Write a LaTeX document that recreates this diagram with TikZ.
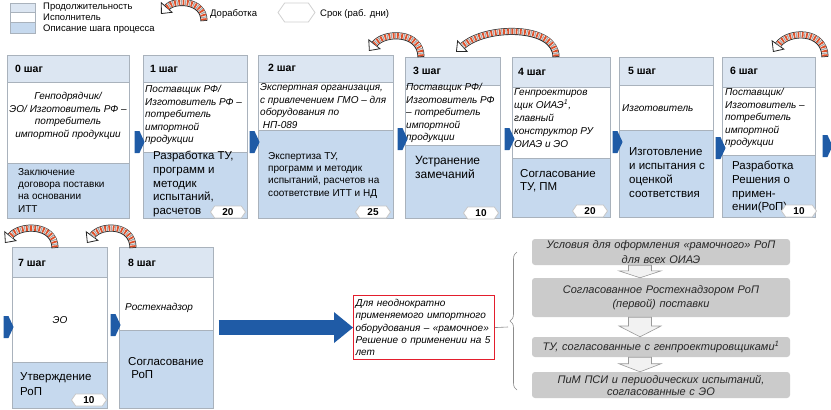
\documentclass[tikz,border=0pt]{standalone}
\usepackage{fontspec}
\setmainfont{Liberation Sans}
\usetikzlibrary{arrows.meta,shapes.symbols,decorations.pathreplacing,calc}

\definecolor{hdrc}{HTML}{DCE6F2}
\definecolor{descc}{HTML}{C6D9EE}
\definecolor{bordc}{HTML}{A9B2BC}
\definecolor{bluec}{HTML}{1F5BA6}
\definecolor{gboxc}{HTML}{CBCBCB}
\definecolor{redc}{HTML}{E31E2D}
\definecolor{stripr}{HTML}{E0502A}
\definecolor{stripg}{HTML}{A8A8A8}

\tikzset{
 cell/.style={draw=bordc, line width=0.6pt, anchor=north west, inner sep=0pt},
 hdr/.style={cell, fill=hdrc},
 who/.style={cell, fill=white},
 desc/.style={cell, fill=descc},
 steptxt/.style={anchor=west, inner sep=0pt, font=\fontsize{10.5}{12}\selectfont\bfseries},
 perf/.style={anchor=north west, inner sep=0pt, align=left, font=\fontsize{10}{12.5}\selectfont\itshape},
 dtxt/.style={anchor=north west, inner sep=0pt, align=left, font=\fontsize{11.5}{13.7}\selectfont},
 legtxt/.style={anchor=west, inner sep=0pt, font=\fontsize{9.5}{11}\selectfont},
 badge/.style={shape=signal, signal to=east and west, signal pointer angle=110, draw=black!22, fill=white, line width=0.8pt, minimum width=35pt, minimum height=12pt, inner sep=0pt, font=\fontsize{10}{10}\selectfont\bfseries},
 chev/.style={shape=signal, signal to=east, signal pointer angle=130, fill=bluec, minimum width=10pt, minimum height=22pt, inner sep=0pt},
 bigarr/.style={line width=15pt, draw=bluec, -{Triangle[length=19pt,width=31pt,line width=0pt]}, shorten <=5pt},
 redbox/.style={draw=redc, line width=1.1pt, anchor=north west, text width=137pt, minimum height=64pt, inner xsep=2pt, inner ysep=1pt, align=left, font=\fontsize{10}{12.4}\selectfont\itshape},
 gbox/.style={fill=gboxc, rounded corners=3pt, minimum width=258pt, text width=254pt, align=center, inner sep=0pt, font=\fontsize{11}{14.5}\selectfont\itshape, text=black!85},
 darrow/.style={draw=black!40, fill=black!5, line width=0.6pt},
 brc/.style={decorate, decoration={brace, amplitude=7pt}, draw=black!45, line width=0.6pt},
 thinln/.style={draw=black!45, line width=0.6pt},
 rwout/.style={line width=7pt, draw=black!85, -{Triangle[length=9pt,width=16pt,fill=white,line width=0.8pt]}},
 rwin/.style={line width=5.4pt, draw=white, shorten >=9pt, shorten <=0.8pt},
 rwred/.style={line width=5.4pt, draw=stripr, dash pattern=on 1.8pt off 2.4pt, shorten >=9pt, shorten <=0.8pt},
 rwgray/.style={line width=5.4pt, draw=stripg, dash pattern=on 1.2pt off 3.0pt, dash phase=1.8pt, shorten >=9pt, shorten <=0.8pt},
}

\newcommand\stepcol[7]{%
 \node[hdr, minimum width={#3-#2}, minimum height={#5-#4}] (#1h) at (#2,#4) {};
 \node[who, minimum width={#3-#2}, minimum height={#6-#5}] (#1w) at (#2,#5) {};
 \node[desc, minimum width={#3-#2}, minimum height={#7-#6}] (#1d) at (#2,#6) {};
}
\newcommand\rework[3]{%
 \foreach \st in {rwout,rwin,rwred,rwgray}{%
  \draw[\st] let \p1=(#1), \p2=(#2) in (\p1) .. controls (\x1,{\y1+#3pt}) and ({\x2+0.3*(\x1-\x2)},{\y1+#3pt}) .. (\p2);}%
}
\newcommand\dnarrow[2]{%
 \path[darrow] let \p1=($(#1.south)+(-21,0)$), \p2=(#2.north), \n1={0.55*\y1+0.45*\y2} in
  (\x1-11.5pt,\y1) -- (\x1+11.5pt,\y1) -- (\x1+11.5pt,\n1) -- (\x1+21pt,\n1) -- (\x1,\y2) -- (\x1-21pt,\n1) -- (\x1-11.5pt,\n1) -- cycle;%
}

\begin{document}
\begin{tikzpicture}[x=1pt,y=-1pt]
\fill[white] (0,0) rectangle (831,410);
\useasboundingbox (0,0) rectangle (831,410);

% legend
\node[hdr, minimum width=25pt, minimum height=9pt] (lg1) at (10,3) {};
\node[who, minimum width=25pt, minimum height=10pt] (lg2) at (10,12) {};
\node[desc, minimum width=25pt, minimum height=11pt] (lg3) at (10,22) {};
\node[legtxt] (lt1) at (43,7.5) {Продолжительность};
\node[legtxt] (lt2) at (43,17) {Исполнитель};
\node[legtxt] (lt3) at (43,29.5) {Описание шага процесса};
\coordinate (lrt) at (204,21);
\coordinate (lrh) at (161,14);
\rework{lrt}{lrh}{21.6}
\node[legtxt] (lt4) at (210,14) {Доработка};
\node[badge, minimum width=37pt, minimum height=19pt, draw=black!18] (lgb) at (296.5,12.5) {};
\node[legtxt] (lt5) at (320,14) {Срок (раб. дни)};

% step columns
\stepcol{s0}{7}{129}{55}{82}{163}{218}
\stepcol{s1}{143}{247}{55}{82}{152}{218}
\stepcol{s2}{258}{393}{55}{82}{130}{218}
\stepcol{s3}{405}{500}{57}{85}{145}{218}
\stepcol{s4}{512}{610}{57}{87}{158}{217}
\stepcol{s5}{619}{713}{57}{85}{130}{217}
\stepcol{s6}{722}{815}{57}{87}{155}{217}
\stepcol{s7}{12}{107}{247}{277}{362}{408}
\stepcol{s8}{119}{213}{247}{277}{330}{408}

% headers
\node[steptxt] (t0) at (15,69) {0 шаг};
\node[steptxt] (t1) at (150,69) {1 шаг};
\node[steptxt] (t2) at (268,68) {2 шаг};
\node[steptxt] (t3) at (413,71) {3 шаг};
\node[steptxt] (t4) at (518,72) {4 шаг};
\node[steptxt] (t5) at (628,71) {5 шаг};
\node[steptxt] (t6) at (730,71) {6 шаг};
\node[steptxt] (t7) at (18,263) {7 шаг};
\node[steptxt] (t8) at (128,263) {8 шаг};

% performers
\node[perf, anchor=north, align=center] (p0) at (68,92.5) {Генподрядчик/\\ЭО/ Изготовитель РФ –\\потребитель\\импортной продукции};
\node[perf] (p1) at (145,85.5) {Поставщик РФ/\\Изготовитель РФ –\\потребитель\\импортной\\продукции};
\node[perf] (p2) at (260,83.5) {Экспертная организация,\\с привлечением ГМО – для\\оборудования по\\\ НП-089};
\node[perf] (p3) at (406,83.5) {Поставщик РФ/\\Изготовитель РФ\\– потребитель\\импортной\\продукции};
\node[perf, font=\fontsize{10}{13}\selectfont\itshape] (p4) at (514,88.5) {Генпроектиров\\щик ОИАЭ\textsuperscript{1},\\главный\\конструктор РУ\\ОИАЭ и ЭО};
\node[perf, anchor=west] (p5) at (622,108) {Изготовитель};
\node[perf] (p6) at (725,88.5) {Поставщик/\\Изготовитель –\\потребитель\\импортной\\продукции};
\node[perf, anchor=center] (p7) at (60,320) {ЭО};
\node[perf, anchor=west] (p8) at (125,308) {Ростехнадзор};

% descriptions
\node[dtxt, font=\fontsize{10}{12.3}\selectfont] (d0) at (18,168) {Заключение\\договора поставки\\на основании\\ИТТ};
\node[dtxt] (d1) at (153,151) {Разработка ТУ,\\программ и\\методик\\испытаний,\\расчетов};
\node[dtxt, font=\fontsize{10}{12.4}\selectfont] (d2) at (268,152) {Экспертиза ТУ,\\программ и методик\\испытаний, расчетов на\\соответствие ИТТ и НД};
\node[dtxt, font=\fontsize{12}{14}\selectfont] (d3) at (415,156) {Устранение\\замечаний};
\node[dtxt, font=\fontsize{11.5}{13.3}\selectfont] (d4) at (520,169) {Согласование\\ТУ, ПМ};
\node[dtxt, font=\fontsize{11.5}{14}\selectfont] (d5) at (629,147) {Изготовление\\и испытания с\\оценкой\\соответствия};
\node[dtxt] (d6) at (732,161) {Разработка\\Решения о\\примен-\\ении(РоП)};
\node[dtxt, font=\fontsize{11.5}{15}\selectfont] (d7) at (20,372) {Утверждение\\РоП};
\node[dtxt, font=\fontsize{11.5}{13.5}\selectfont] (d8) at (128,357) {Согласование\\\ РоП};

% duration badges
\node[badge] (b1) at (228,212) {20};
\node[badge] (b2) at (373,212) {25};
\node[badge] (b3) at (481,213) {10};
\node[badge] (b4) at (590,211) {20};
\node[badge] (b6) at (799,211) {10};
\node[badge] (b7) at (89,400) {10};

% small blue arrows
\node[chev] (a01) at (137,142) {};
\node[chev] (a12) at (252,142) {};
\node[chev] (a23) at (400,139) {};
\node[chev] (a34) at (507,139) {};
\node[chev] (a45) at (615,142) {};
\node[chev] (a56) at (718,148) {};
\node[chev] (a6x) at (825,146) {};
\node[chev] (a7i) at (6,327) {};
\node[chev] (a78) at (113,325) {};

% rework arrows
\coordinate (r1t) at (421,57); \coordinate (r1h) at (369,51);
\coordinate (r2t) at (556,57); \coordinate (r2h) at (456,52);
\coordinate (r3t) at (825,57); \coordinate (r3h) at (773,52);
\coordinate (r4t) at (55,248); \coordinate (r4h) at (5,243);
\coordinate (r5t) at (133,248); \coordinate (r5h) at (87,243);
\rework{r1t}{r1h}{25.6}
\rework{r2t}{r2h}{32}
\rework{r3t}{r3h}{27}
\rework{r4t}{r4h}{24}
\rework{r5t}{r5h}{24}

% red box and big arrow
\node[redbox] (rb) at (353,295) {Для неоднократно\\применяемого импортного\\оборудования – «рамочное»\\Решение о применении на 5\\лет};
\draw[bigarr] (s8d.east |- rb.west) -- (rb.west);

% gray boxes
\node[gbox, minimum height=26pt] (g1) at (661,252) {Условия для оформления «рамочного» РоП\\для всех ОИАЭ};
\node[gbox, minimum height=39pt] (g2) at (661,297.5) {Согласованное Ростехнадзором РоП\\(первой) поставки};
\node[gbox, minimum height=20pt] (g3) at (661,347) {ТУ, согласованные с генпроектировщиками\textsuperscript{1}};
\node[gbox, minimum height=26pt, font=\fontsize{11}{12}\selectfont\itshape] (g4) at (661,385) {ПиМ ПСИ и периодических испытаний,\\согласованные с ЭО};
\dnarrow{g1}{g2}
\dnarrow{g2}{g3}
\dnarrow{g3}{g4}

% brace and link
\draw[brc] (517,390) -- (517,252);
\coordinate (bt) at (508,327);
\draw[thinln] (rb.east) -- (bt);
\end{tikzpicture}
\end{document}
